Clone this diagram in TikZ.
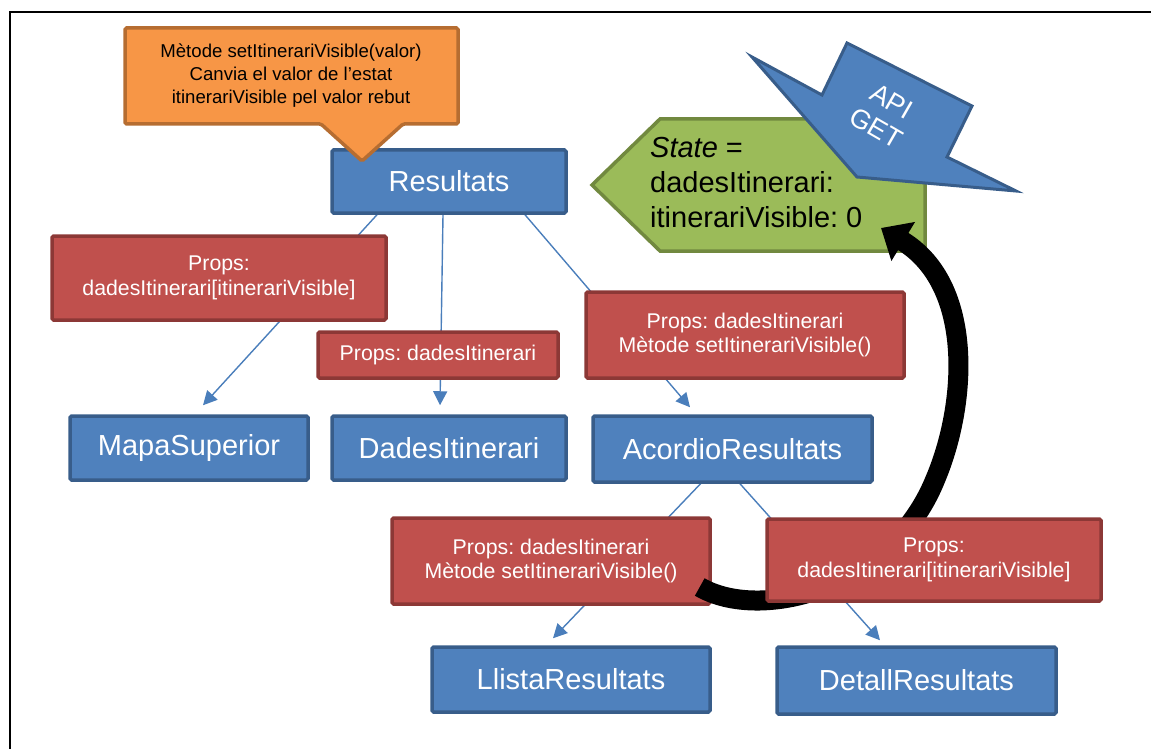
\documentclass[tikz,border=0pt]{standalone}
\usepackage{fontspec}
\setmainfont{Liberation Sans}
\usetikzlibrary{arrows.meta,calc,backgrounds}

\definecolor{boxblue}{HTML}{4F81BD}
\definecolor{boxblueline}{HTML}{385D8A}
\definecolor{boxred}{HTML}{C0504D}
\definecolor{boxredline}{HTML}{8C3836}
\definecolor{noteorange}{HTML}{F79646}
\definecolor{noteorangeline}{HTML}{B66D31}
\definecolor{stategreen}{HTML}{9BBB59}
\definecolor{stategreenline}{HTML}{71893F}
\definecolor{linkblue}{HTML}{4A7EBB}

\tikzset{
  bluebox/.style={draw=boxblueline, fill=boxblue, line width=3.5pt,
    rounded corners=1.5pt, text=white, inner sep=0pt,
    font=\fontsize{29}{34}\selectfont},
  redbox/.style={draw=boxredline, fill=boxred, line width=3.5pt,
    rounded corners=1.5pt, text=white, inner sep=0pt, align=center,
    font=\fontsize{21.3}{24.5}\selectfont},
  link/.style={draw=linkblue, line width=1.4pt,
    -{Triangle[length=14pt,width=14pt]}},
  bigarrow/.style={draw=black, line width=20pt,
    -{Triangle[length=26pt,width=44pt]}},
}

\begin{document}
\frenchspacing
\begin{tikzpicture}[x=1pt,y=-1pt]
\useasboundingbox (0,0) rectangle (1151,749);

% frame
\draw[line width=2.5pt] (10,749) -- (10,12) -- (1151,12);

% components
\node[bluebox, minimum width=234pt, minimum height=63pt] (res)    at (449,181.5) {Resultats};
\node[bluebox, minimum width=238pt, minimum height=64pt] (mapa)   at (189,448)   {MapaSuperior};
\node[bluebox, minimum width=234pt, minimum height=64pt] (dades)  at (449,448)   {DadesItinerari};
\node[bluebox, minimum width=279pt, minimum height=66pt] (acord)  at (732.5,449) {AcordioResultats};
\node[bluebox, minimum width=278pt, minimum height=65pt] (llista) at (571,679.5) {LlistaResultats};
\node[bluebox, minimum width=279pt, minimum height=67pt] (detall) at (916.5,680.5) {DetallResultats};

% callout with the method description
\draw[draw=noteorangeline, fill=noteorange, line width=3.5pt, rounded corners=1.5pt]
  (125,28) -- (458,28) -- (458,124) -- (403,124) -- (362,161) -- (321,124) -- (125,124) -- cycle;
\node[align=center, inner sep=0pt, font=\fontsize{18.6}{23}\selectfont] (note) at (291,76)
  {Mètode setItinerariVisible(valor)\\Canvia el valor de l’estat\\itinerariVisible pel valor rebut};

% props passed down
\node[redbox, minimum width=334pt, minimum height=84pt] (r1) at (219,278)
  {Props:\\dadesItinerari[itinerariVisible]};
\node[redbox, minimum width=240pt, minimum height=46pt] (r2) at (438,355)
  {Props: dadesItinerari};
\node[redbox, minimum width=318pt, minimum height=86pt] (r3) at (745,335)
  {Props: dadesItinerari\\Mètode setItinerariVisible()};
\node[redbox, minimum width=318pt, minimum height=86pt] (r4) at (551,561)
  {Props: dadesItinerari\\Mètode setItinerariVisible()};

% state box
\draw[draw=stategreenline, fill=stategreen, line width=3.5pt]
  (592,185) -- (660,119) -- (925,119) -- (925,251) -- (660,251) -- cycle;
\node[align=left, anchor=west, inner sep=0pt, font=\fontsize{29}{35}\selectfont] (state) at (650,183)
  {\textit{State} =\\dadesItinerari:\\itinerariVisible: 0};

% API request marker
\draw[draw=boxblueline, fill=boxblue, line width=3pt, line join=miter]
  (752,57) -- (822,95) -- (847,43) -- (972,106) -- (947,157) -- (1016,191) -- (857,177) -- cycle;
\node[rotate=-30, text=white, align=center, inner sep=0pt, font=\fontsize{27}{31}\selectfont] (api) at (884,115)
  {API\\GET};

% update cycle arrow
\coordinate (arcend) at (881,228);
\draw[bigarrow] ($(r4.east)+(-12,26)$) .. controls (760,622) and (890,590) .. (935,480)
  .. controls (967,405) and (975,285) .. (arcend);

\node[redbox, minimum width=334pt, minimum height=82pt] (r5) at (934,560)
  {Props:\\dadesItinerari[itinerariVisible]};

% parent-child links
\begin{scope}[on background layer]
\draw[link] ($(res.south)+(-72,0)$)  -- ($(mapa.north)+(14,-9)$);
\draw[link] ($(res.south)+(-6,0)$)   -- ($(dades.north)+(-9,-9)$);
\draw[link] ($(res.south)+(76,0)$)   -- ($(acord.north)+(-42.5,-7)$);
\draw[link] ($(acord.south)+(-32,0)$) -- ($(llista.north)+(-18,-7)$);
\draw[link] ($(acord.south)+(7.5,0)$) -- ($(detall.north)+(-36.5,-5)$);
\end{scope}
\end{tikzpicture}
\end{document}
